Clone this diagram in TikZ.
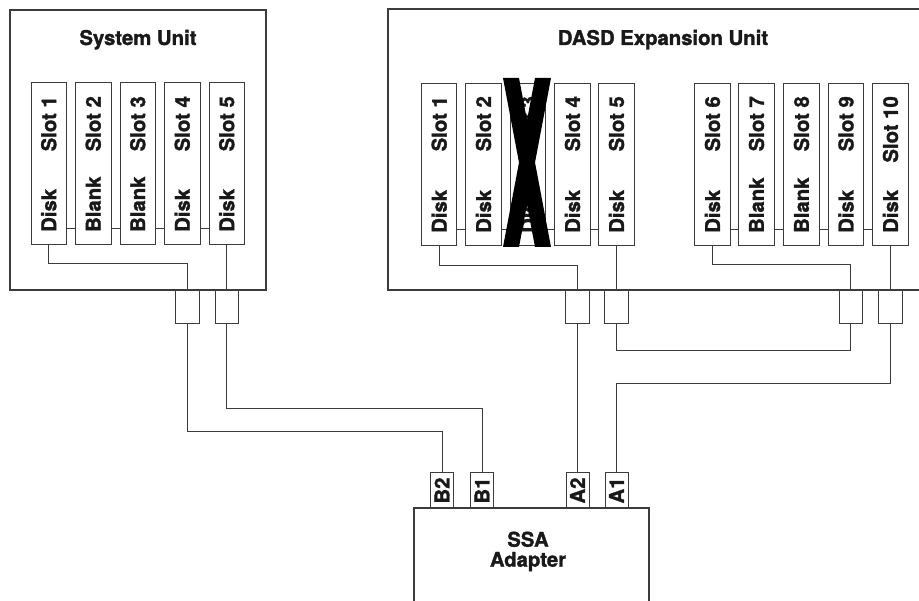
\documentclass[tikz,border=0pt]{standalone}
\usepackage{fontspec}
\setmainfont{TeX Gyre Heros}[BoldFeatures={FakeBold=1.5}]
\usetikzlibrary{positioning,calc}
\definecolor{wirecol}{RGB}{60,60,60}
\definecolor{inkcol}{RGB}{25,25,25}
\newcommand{\labfont}{\fontsize{20.3}{20}\selectfont\bfseries}
\tikzset{
  unitbox/.style={draw=wirecol,line width=1.2pt,inner sep=0pt},
  slotbox/.style={draw=wirecol,line width=1pt,minimum width=35.5pt,
                  minimum height=162pt,inner sep=0pt},
  plug/.style={draw=wirecol,line width=1pt,minimum width=23.5pt,
               minimum height=34pt,inner sep=0pt},
  portbox/.style={draw=wirecol,line width=1pt,minimum width=23pt,
                  minimum height=35pt,inner sep=0pt},
  slottxt/.style={rotate=90,inner sep=0pt,font=\labfont,text=inkcol},
  heading/.style={inner sep=0pt,font=\labfont,text=inkcol,align=center},
  wire/.style={draw=wirecol,line width=1pt},
  cross/.style={fill=black},
}
\begin{document}
\begin{tikzpicture}[x=1pt,y=-1pt]
  \useasboundingbox (0,0) rectangle (919,601);
  \clip (0,0) rectangle (919,601);
  % units
  \node[unitbox,minimum width=256pt,minimum height=280pt] (sysu) at (138,150) {};
  \node[unitbox,minimum width=547pt,minimum height=281pt] (dasd) at (661.5,149.5) {};
  \node[heading,anchor=base] (sysname) at (138,45) {System Unit};
  \node[heading,anchor=base] (dasdname) at (663,45) {DASD Expansion Unit};
  % slots
  \foreach \i/\x/\kind in {1/48.75/Disk,2/93.25/Blank,3/137.75/Blank,
                           4/182.25/Disk,5/226.75/Disk}{
    \node[slotbox] (su\i) at (\x,164) {};
    \node[slottxt,anchor=east] at (\x,96) {Slot \i};
    \node[slottxt,anchor=west] at (\x,232) {\kind};
  }
  \foreach \i/\x/\kind in {1/439.2/Disk,2/483.5/Disk,3/528/Disk,4/572.5/Disk,
                           5/616.5/Disk,6/712.5/Disk,7/756.5/Blank,8/801.5/Blank,
                           9/846/Disk,10/890.5/Disk}{
    \node[slotbox] (de\i) at (\x,165) {};
    \node[slottxt,anchor=east] at (\x,96) {Slot \i};
    \node[slottxt,anchor=west] at (\x,233) {\kind};
  }
  \foreach \i [evaluate=\i as \j using int(\i+1)] in {1,...,4}
    \draw[wire] ([yshift=17pt]su\i.south east) -- ([yshift=17pt]su\j.south west);
  \foreach \i [evaluate=\i as \j using int(\i+1)] in {1,2,3,4,6,7,8,9}
    \draw[wire] ([yshift=17pt]de\i.south east) -- ([yshift=17pt]de\j.south west);
  % removed drive
  \fill[cross] (503,78) -- (519,78) -- (551,247) -- (535,247) -- cycle;
  \fill[cross] (535,78) -- (551,78) -- (519,247) -- (503,247) -- cycle;
  % plugs
  \node[plug] (suA) at (187.5,307) {};
  \node[plug] (suB) at (226.75,307) {};
  \node[plug] (deA) at (577.5,307) {};
  \node[plug] (deB) at (616.5,307) {};
  \node[plug] (deC) at (850.8,307) {};
  \node[plug] (deD) at (890.5,307) {};
  % adapter
  \node[unitbox,minimum width=235pt,minimum height=122pt] (ssa) at (531.5,569) {};
  \node[heading,anchor=base] (ssaname) at (528,566.7) {SSA\\Adapter};
  \node[portbox,label={[slottxt]center:B2}] (pB2) at (442,490.5) {};
  \node[portbox,label={[slottxt]center:B1}] (pB1) at (482,490.5) {};
  \node[portbox,label={[slottxt]center:A2}] (pA2) at (577.5,490.5) {};
  \node[portbox,label={[slottxt]center:A1}] (pA1) at (616.5,490.5) {};
  % cables
  \draw[wire] (su1.south) -- ++(0,18) -| (suA.north);
  \draw[wire] (su5.south) -- (suB.north);
  \draw[wire] (de1.south) -- ++(0,19) -| (deA.north);
  \draw[wire] (de5.south) -- (deB.north);
  \draw[wire] (de6.south) -- ++(0,18) -| (deC.north);
  \draw[wire] (de10.south) -- (deD.north);
  \draw[wire] (suA.south) -- ++(0,107) -| (pB2.north);
  \draw[wire] (suB.south) -- ++(0,84) -| (pB1.north);
  \draw[wire] (deA.south) -- (pA2.north);
  \draw[wire] (deB.south) -- ++(0,26) -| (deC.south);
  \draw[wire] (deD.south) -- ++(0,59) -| (pA1.north);
\end{tikzpicture}
\end{document}
